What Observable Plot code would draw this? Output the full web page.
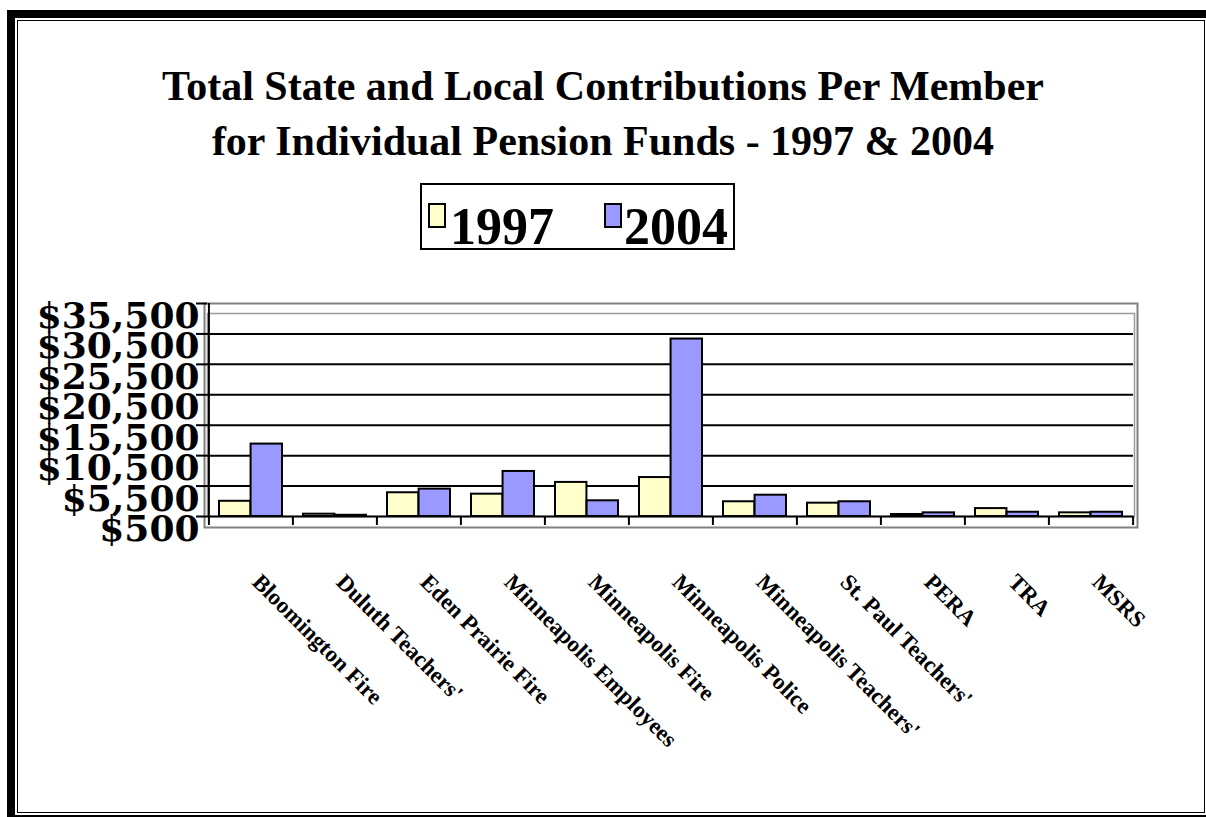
<!DOCTYPE html>
<html>
<head>
<meta charset="utf-8">
<script src="https://cdn.jsdelivr.net/npm/d3@7"></script>
<script src="https://cdn.jsdelivr.net/npm/@observablehq/plot@0.6"></script>
<style>
  html, body { margin: 0; padding: 0; background: #fff; }
  #chart { position: relative; width: 1206px; height: 817px; background: #fff; overflow: hidden; font-family: "Liberation Serif", "Times New Roman", serif; }
  .abs { position: absolute; }
  #title { left: 0; top: 59px; width: 1206px; text-align: center; font-weight: bold; font-size: 42px; line-height: 55px; color: #000; }
  #legend { left: 420px; top: 183px; width: 311px; height: 63px; border: 2px solid #000; background: #fff; }
  .sw { width: 14px; height: 21px; border: 2px solid #000; }
  .lt { font-weight: bold; font-size: 52px; line-height: 52px; color: #000; }
  #plot { left: 0; top: 280px; }
</style>
</head>
<body>
<div id="chart">
  <!-- page frame -->
  <div class="abs" style="left:7px;top:10px;width:1199px;height:8px;background:#000"></div>
  <div class="abs" style="left:7px;top:10px;width:8px;height:807px;background:#000"></div>
  <div class="abs" style="left:17px;top:20px;width:1186px;height:791px;border:1.5px solid #000"></div>
  <div class="abs" style="left:15px;top:815px;width:1191px;height:2px;background:#000"></div>

  <div id="title" class="abs">Total State and Local Contributions Per Member<br>for Individual Pension Funds - 1997 &amp; 2004</div>
  <div id="legend" class="abs"></div>
  <div id="plot" class="abs"></div>
</div>
<script>
const categories = [
  "Bloomington Fire", "Duluth Teachers'", "Eden Prairie Fire", "Minneapolis Employees",
  "Minneapolis Fire", "Minneapolis Police", "Minneapolis Teachers'", "St. Paul Teachers'",
  "PERA", "TRA", "MSRS"
];
const values1997 = [3000, 880, 4400, 4170, 6100, 6900, 2920, 2690, 830, 1800, 1100];
const values2004 = [12400, 700, 5000, 7900, 3080, 29660, 4000, 2920, 1100, 1200, 1200];
const seriesNames = ["1997", "2004"];
const seriesColors = ["#FFFFCC", "#9999FF"];
const yTicks = [500, 5500, 10500, 15500, 20500, 25500, 30500, 35500];
const yTickLabels = ["$500", "$5,500", "$10,500", "$15,500", "$20,500", "$25,500", "$30,500", "$35,500"];
const baseline = 500;

// legend (HTML)
const legend = document.getElementById("legend");
const legendItems = [
  {sw: [6, 18], tx: [28, 16]},
  {sw: [182, 18], tx: [202, 16]}
];
seriesNames.forEach((name, i) => {
  const sw = document.createElement("div");
  sw.className = "abs sw";
  sw.style.left = legendItems[i].sw[0] + "px";
  sw.style.top = legendItems[i].sw[1] + "px";
  sw.style.background = seriesColors[i];
  legend.appendChild(sw);
  const t = document.createElement("div");
  t.className = "abs lt";
  t.style.left = legendItems[i].tx[0] + "px";
  t.style.top = legendItems[i].tx[1] + "px";
  t.textContent = name;
  legend.appendChild(t);
});

const rows1997 = categories.map((c, i) => ({category: c, value: values1997[i]}));
const rows2004 = categories.map((c, i) => ({category: c, value: values2004[i]}));

const W = 1206, H = 480, mL = 207, mR = 73, mT = 23, mB = 244;
const pInner = 0.25, pOuter = 0.125;
const step = (W - mL - mR) / (categories.length - pInner + 2 * pOuter);
const bw = step * (1 - pInner);
const font = "Liberation Serif";
const gridTicks = yTicks.slice(1, -1);
const labelOf = new Map(yTicks.map((t, i) => [t, yTickLabels[i]]));

const chart = Plot.plot({
  width: W,
  height: H,
  marginLeft: mL,
  marginRight: mR,
  marginTop: mT,
  marginBottom: mB,
  style: {background: "transparent", color: "#000", fontFamily: font},
  x: {domain: categories, paddingInner: pInner, paddingOuter: pOuter, axis: null},
  y: {domain: [baseline, 35500]},
  marks: [
    Plot.frame({stroke: "#808080", strokeWidth: 2, insetLeft: -3, insetRight: -4, insetBottom: -11}),
    Plot.frame({stroke: "#9a9a9a", strokeWidth: 1.5, insetTop: 10, insetRight: -1}),
    Plot.ruleY(gridTicks, {stroke: "#000", strokeWidth: 2}),
    Plot.barY(rows1997, {x: "category", y1: baseline, y2: "value", fill: seriesColors[0], stroke: "#000", strokeWidth: 2, insetRight: bw / 2}),
    Plot.barY(rows2004, {x: "category", y1: baseline, y2: "value", fill: seriesColors[1], stroke: "#000", strokeWidth: 2, insetLeft: bw / 2}),
    Plot.ruleY([baseline], {stroke: "#000", strokeWidth: 2}),
    Plot.ruleX([categories[0]], {x: d => d, dx: -step / 2, y1: baseline, y2: 35500, stroke: "#000", strokeWidth: 2}),
    Plot.ruleX(categories, {x: d => d, dx: -step / 2, y1: baseline, y2: baseline, insetBottom: -9, stroke: "#000", strokeWidth: 2}),
    Plot.ruleX([categories[categories.length - 1]], {x: d => d, dx: step / 2, y1: baseline, y2: baseline, insetBottom: -9, stroke: "#000", strokeWidth: 2}),
    Plot.axisY({ticks: yTicks, tickSize: 11, strokeWidth: 2, stroke: "#000", fill: "none", label: null}),
    Plot.axisY({ticks: yTicks, tickSize: 0, tickPadding: 8, dy: 13, tickFormat: d => labelOf.get(d), fontSize: 36, fontWeight: "bold", fontFamily: "DejaVu Serif", fill: "#000", label: null}),
    Plot.text(categories, {x: d => d, frameAnchor: "bottom", dy: 67, rotate: 45, textAnchor: "start", fontSize: 23, fontWeight: "bold", fontFamily: font, fill: "#000"})
  ]
});
document.getElementById("plot").appendChild(chart);
</script>
</body>
</html>
